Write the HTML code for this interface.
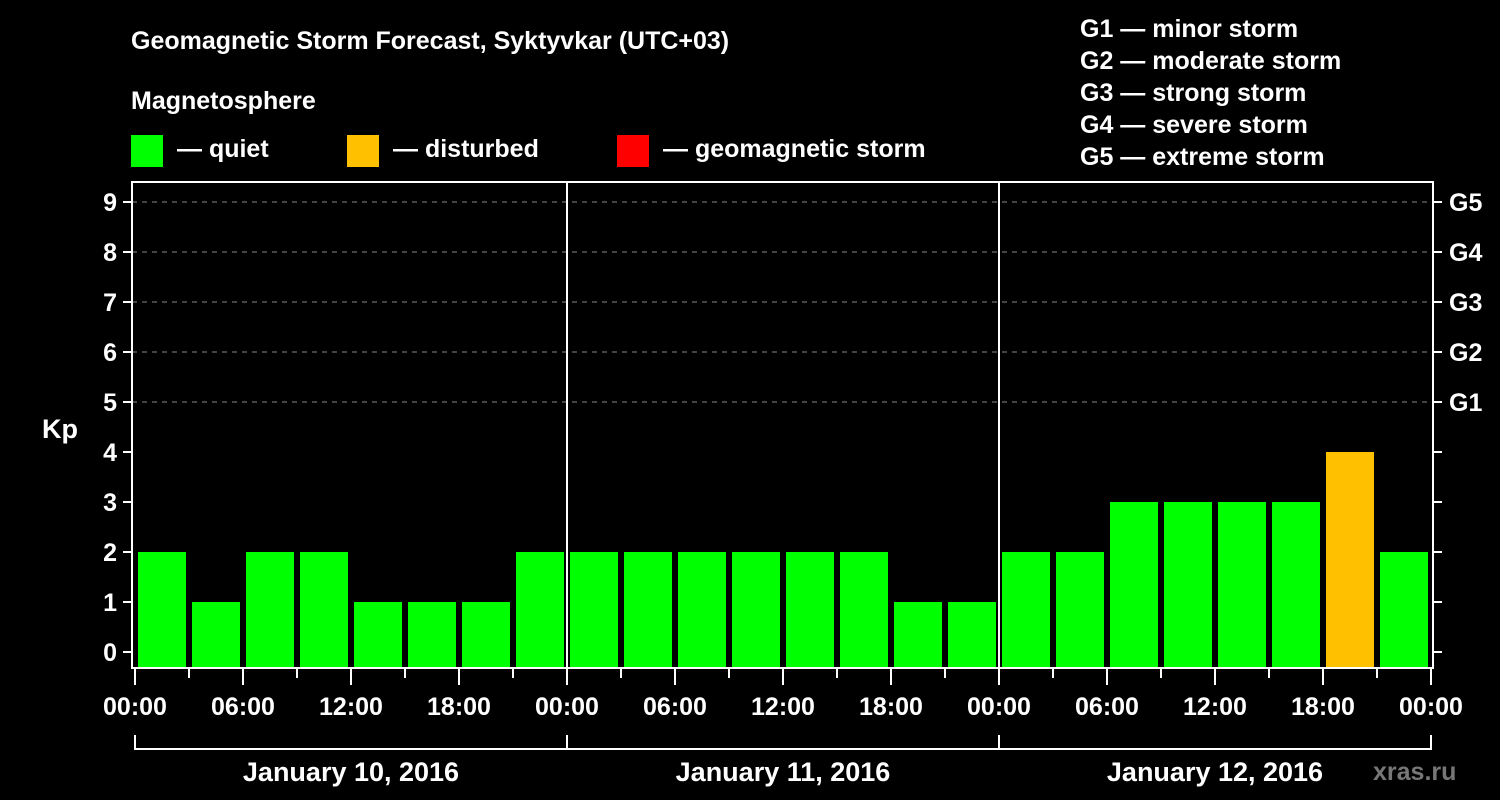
<!DOCTYPE html>
<html><head><meta charset="utf-8"><style>
html,body{margin:0;padding:0;background:#000;}
svg{display:block;font-family:"Liberation Sans",Arial,sans-serif;font-weight:bold;}
</style></head><body>
<svg id="chart" width="1500" height="800" viewBox="0 0 1500 800">
<rect x="0" y="0" width="1500" height="800" fill="#000"/>
<text x="131" y="49" fill="#fff" font-size="25">Geomagnetic Storm Forecast, Syktyvkar (UTC+03)</text>
<text x="131" y="109" fill="#fff" font-size="25">Magnetosphere</text>
<g><rect x="131" y="135" width="32" height="32" fill="#00ff00"/><text x="177" y="157" fill="#fff" font-size="25">— quiet</text></g>
<g><rect x="347" y="135" width="32" height="32" fill="#ffc000"/><text x="393" y="157" fill="#fff" font-size="25">— disturbed</text></g>
<g><rect x="617" y="135" width="32" height="32" fill="#ff0000"/><text x="663" y="157" fill="#fff" font-size="25">— geomagnetic storm</text></g>
<g fill="#fff" font-size="25">
<text x="1080" y="37">G1 — minor storm</text>
<text x="1080" y="69">G2 — moderate storm</text>
<text x="1080" y="101">G3 — strong storm</text>
<text x="1080" y="133">G4 — severe storm</text>
<text x="1080" y="165">G5 — extreme storm</text>
</g>
<text x="42" y="438" fill="#fff" font-size="27">Kp</text>
<text x="1373" y="780" fill="#777" font-size="25">xras.ru</text>
<g id="plot"></g>
</svg>
<script>
const kpValues = [2,1,2,2,1,1,1,2, 2,2,2,2,2,2,1,1, 2,2,3,3,3,3,4,2];
const yTicks = [0,1,2,3,4,5,6,7,8,9];
const gLabels = ["G1","G2","G3","G4","G5"];
const xTickLabels = ["00:00","06:00","12:00","18:00","00:00","06:00","12:00","18:00","00:00","06:00","12:00","18:00","00:00"];
const dayLabels = ["January 10, 2016","January 11, 2016","January 12, 2016"];

const NS = "http://www.w3.org/2000/svg";
const g = document.getElementById('plot');
const X0 = 135, SLOT = 54, L = 132, R = 1433, T = 182, B = 668;
const x = i => X0 + i * SLOT;
const y = v => 652 - v * 50;
function mk(tag, attrs, parent) {
  const e = document.createElementNS(NS, tag);
  for (const k in attrs) e.setAttribute(k, attrs[k]);
  (parent || g).appendChild(e);
  return e;
}
// grid
for (let v = 5; v <= 9; v++) {
  const l = mk('line', {x1: L, x2: R, y1: y(v), y2: y(v), stroke: '#888', 'stroke-dasharray': '5,5', 'stroke-width': 1});
  
  
}
// bars
kpValues.forEach((v, i) => {
  const col = v >= 5 ? '#ff0000' : (v >= 4 ? '#ffc000' : '#00ff00');
  const r = mk('rect', {x: x(i) + 3, y: y(v), width: 48, height: B - y(v), fill: col});
  
  
});
// day separators
for (let d = 1; d < 3; d++) {
  const l = mk('line', {x1: x(d * 8), x2: x(d * 8), y1: T, y2: B, stroke: '#fff', 'stroke-width': 2});
  
  
}
// frame
const fr = mk('rect', {x: L, y: T, width: R - L, height: B - T, fill: 'none', stroke: '#fff', 'stroke-width': 2});


// y ticks
yTicks.forEach(v => {
  mk('line', {x1: L - 9, x2: L, y1: y(v), y2: y(v), stroke: '#fff', 'stroke-width': 2});
  mk('line', {x1: R, x2: R + 9, y1: y(v), y2: y(v), stroke: '#fff', 'stroke-width': 2});
  const t = mk('text', {x: 117, y: y(v) + 9, fill: '#fff', 'font-size': 25, 'text-anchor': 'end'});
  t.textContent = v;
  
  
});
gLabels.forEach((s, i) => {
  const t = mk('text', {x: 1449, y: y(5 + i) + 9, fill: '#fff', 'font-size': 25});
  t.textContent = s;
  
  
});
// x ticks
for (let i = 0; i <= kpValues.length; i++) {
  const major = i % 2 === 0;
  mk('line', {x1: x(i), x2: x(i), y1: B, y2: B + (major ? 17 : 10), stroke: '#fff', 'stroke-width': 2});
}
xTickLabels.forEach((s, j) => {
  const t = mk('text', {x: x(j * 2), y: 715, fill: '#fff', 'font-size': 25, 'text-anchor': 'middle'});
  t.textContent = s;
  
  
});
// day brackets
mk('line', {x1: x(0), x2: x(24), y1: 749, y2: 749, stroke: '#fff', 'stroke-width': 2});
for (let d = 0; d <= 3; d++) mk('line', {x1: x(d * 8), x2: x(d * 8), y1: 735, y2: 750, stroke: '#fff', 'stroke-width': 2});
dayLabels.forEach((s, d) => {
  const t = mk('text', {x: (x(d * 8) + x(d * 8 + 8)) / 2, y: 781, fill: '#fff', 'font-size': 27, 'text-anchor': 'middle'});
  t.textContent = s;
  
  
});
</script>
</body></html>
